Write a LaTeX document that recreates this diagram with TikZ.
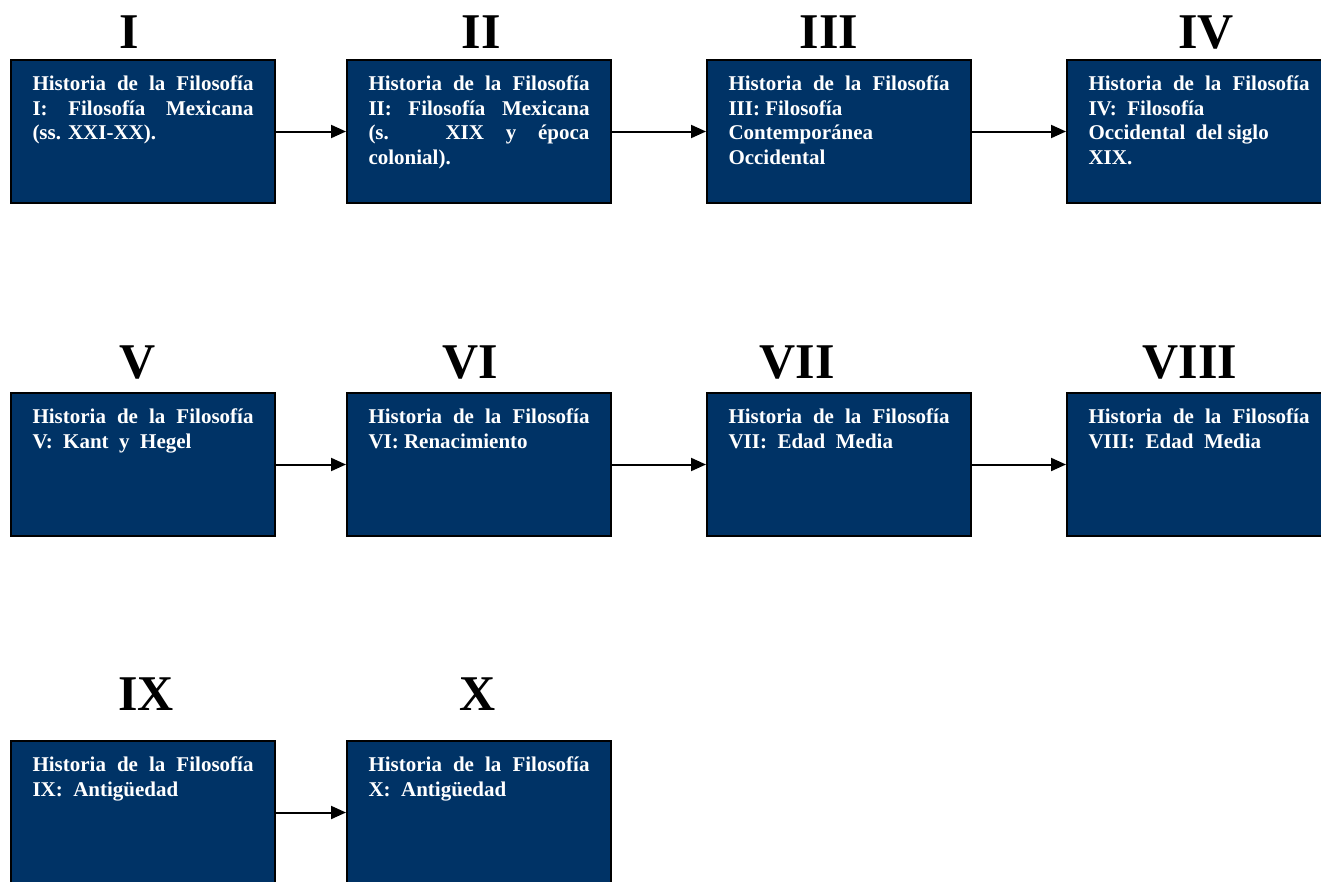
\documentclass[tikz,border=0pt]{standalone}
\usepackage{fontspec}
\setmainfont{Liberation Serif}
\usetikzlibrary{arrows.meta}
\definecolor{azulfondo}{RGB}{0,51,102}

\begin{document}
\begin{tikzpicture}[x=1pt,y=-1pt,line width=2pt,>={Triangle[length=15pt,width=13pt]},
  curso/.style={draw=black,fill=azulfondo,text=white,anchor=north west,
    font=\fontsize{21}{24.5}\selectfont\bfseries,text width=221pt,align=justify,
    inner xsep=21.5pt,inner ysep=0pt,text height=30.5pt,text depth=112.5pt},
  numero/.style={font=\fontsize{50}{50}\selectfont\bfseries,anchor=base}]
\useasboundingbox (0,0) rectangle (1321,881);
% numeros romanos sobre cada curso
\foreach \r/\px/\py in {I/129/48,II/481/48,III/829/48,IV/1206/48,
 V/138/378,VI/470/378,VII/797/378,VIII/1190/378,IX/146/710,X/478/710}{
  \node[numero] (n\r) at (\px,\py) {\r};
}
% primera fila
\node[curso] (c1) at (10,59) {Historia de la Filosofía\linebreak
  I: Filosofía Mexicana\linebreak (ss. XXI-XX).};
\node[curso] (c2) at (346,59) {Historia de la Filosofía\linebreak
  II: Filosofía Mexicana\linebreak (s. XIX y época\linebreak colonial).};
\node[curso] (c3) at (706,59) {Historia de la Filosofía\linebreak
  III: Filosofía\\ Contemporánea\\ Occidental};
\node[curso] (c4) at (1066,59) {Historia de la Filosofía\linebreak
  IV:\ \ Filosofía\\ Occidental\ \ del siglo\\ XIX.};
% segunda fila
\node[curso] (c5) at (10,392) {Historia de la Filosofía\linebreak
  V:\ \ Kant\ \ y\ \ Hegel};
\node[curso] (c6) at (346,392) {Historia de la Filosofía\linebreak
  VI: Renacimiento};
\node[curso] (c7) at (706,392) {Historia de la Filosofía\linebreak
  VII:\ \ Edad\ \ Media};
\node[curso] (c8) at (1066,392) {Historia de la Filosofía\linebreak
  VIII:\ \ Edad\ \ Media};
% tercera fila
\node[curso] (c9) at (10,740) {Historia de la Filosofía\linebreak
  IX:\ \ Antigüedad};
\node[curso] (c10) at (346,740) {Historia de la Filosofía\linebreak
  X:\ \ Antigüedad};
% flechas entre cursos
\foreach \a/\b in {c1/c2,c2/c3,c3/c4,c5/c6,c6/c7,c7/c8,c9/c10}
  \draw[->] (\a) -- (\b);
\end{tikzpicture}
\end{document}
